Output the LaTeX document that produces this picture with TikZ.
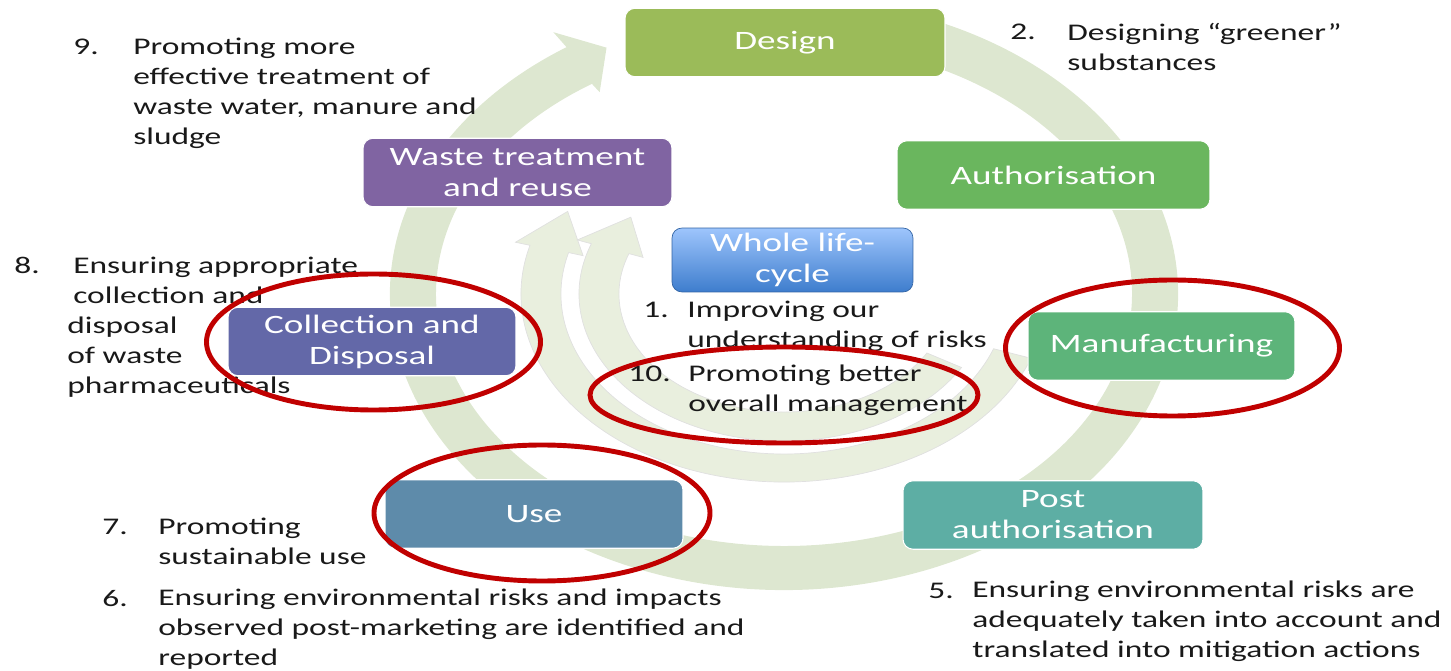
\documentclass[tikz,border=0pt]{standalone}
\usepackage{fontspec}
\usepackage{tikz}
\setmainfont{Carlito}
\newfontfamily\slidefont[FakeStretch=1.4]{Carlito}
\definecolor{ringgreen}{RGB}{221,231,208}
\definecolor{innergreen}{RGB}{233,239,222}
\definecolor{designgreen}{RGB}{155,187,89}
\definecolor{authgreen}{RGB}{106,182,94}
\definecolor{manugreen}{RGB}{93,180,122}
\definecolor{postteal}{RGB}{93,174,164}
\definecolor{useblue}{RGB}{94,139,170}
\definecolor{collectblue}{RGB}{99,104,168}
\definecolor{wastepurple}{RGB}{128,100,162}
\definecolor{lifetop}{RGB}{158,197,252}
\definecolor{lifebottom}{RGB}{62,125,205}
\definecolor{markred}{RGB}{192,0,0}
\pgfdeclarelayer{ringlayer}
\pgfdeclarelayer{boxlayer}
\pgfsetlayers{ringlayer,boxlayer,main}
\tikzstyle{stage}=[rounded corners=0.2cm,draw=white,line width=0.6pt,text=white,align=center,inner sep=0pt,minimum height=1.37cm,font=\slidefont\fontsize{15.1}{17.6}\selectfont]
\tikzstyle{num}=[anchor=base west,inner sep=0pt,text=black!90,font=\slidefont\fontsize{13.6}{17.07}\selectfont]
\tikzstyle{item}=[anchor=north west,inner sep=0pt,align=left,text=black!90,font=\slidefont\fontsize{13.6}{17.07}\selectfont]
\tikzstyle{redring}=[draw=markred,line width=2.8pt]

\begin{document}
\begin{tikzpicture}[x=0.02cm,y=0.02cm]
        \useasboundingbox (0,0) rectangle (1451,670);

        \begin{pgfonlayer}{ringlayer}
            \begin{scope}[shift={(784,376)}]
                % big cycle arrow
                \fill [ringgreen] (70:394 and 296) arc [start angle=70, end angle=-236.5, x radius=394, y radius=296]
                    -- (-236.5:418 and 314) -- (-242:378 and 279) -- (-236.5:334 and 242)
                    -- (-236.5:348 and 252) arc [start angle=-236.5, end angle=70, x radius=348, y radius=252] -- cycle;
                % two inner arrows
                \filldraw [innergreen, draw=black!12] (-20:263 and 188) arc [start angle=-20, end angle=-195, x radius=263, y radius=188]
                    -- (-195:278 and 200) -- (-208:245 and 176) -- (-195:208 and 148)
                    -- (-195:223 and 160) arc [start angle=-195, end angle=-20, x radius=223, y radius=160] -- cycle;
                \filldraw [innergreen, draw=black!12] (-30:205 and 147) arc [start angle=-30, end angle=-200, x radius=205, y radius=147]
                    -- (-200:220 and 158) -- (-215:187 and 134) -- (-200:150 and 107)
                    -- (-200:165 and 118) arc [start angle=-200, end angle=-30, x radius=165, y radius=118] -- cycle;
            \end{scope}
        \end{pgfonlayer}

        \begin{pgfonlayer}{boxlayer}
            \node [style = stage, fill=designgreen, minimum width=6.4cm] (design) at (785, 627.5) {Design};
            \node [style = stage, fill=authgreen, minimum width=6.26cm] (auth) at (1053.5, 495) {Authorisation};
            \node [style = stage, fill=manugreen, minimum width=5.34cm] (manu) at (1161.5, 324) {Manufacturing};
            \node [style = stage, fill=postteal, minimum width=6cm] (post) at (1053, 155) {Post\\authorisation};
            \node [style = stage, fill=useblue, minimum width=5.96cm] (use) at (534, 156) {Use};
            \node [style = stage, fill=collectblue, minimum width=5.76cm] (collect) at (372, 328.5) {Collection and\\Disposal};
            \node [style = stage, fill=wastepurple, minimum width=6.18cm] (waste) at (517.5, 497.5) {Waste treatment\\and reuse};
            \node [style = stage, top color=lifetop, bottom color=lifebottom, draw=lifebottom!80!black, line width=0.4pt,
                minimum width=4.82cm, minimum height=1.28cm] (life) at (792.5, 410) {Whole life-\\cycle};
        \end{pgfonlayer}

        \node [style = num] (n9) at (73, 615) {9.};
        \node [style = item] (t9) at (133, 632) {Promoting more\\effective treatment of\\waste water, manure and\\sludge};
        \node [style = num] (n2) at (1010, 630) {2.};
        \node [style = item] (t2) at (1067, 647) {Designing “greener”\\substances};
        \node [style = num] (n8) at (14, 396) {8.};
        \node [style = item] (t8) at (67, 413) {\hspace*{0.12cm}Ensuring appropriate\\\hspace*{0.12cm}collection and\\disposal\\of waste\\pharmaceuticals};
        \node [style = num] (n1) at (643, 352) {1.};
        \node [style = item] (t1) at (687, 369) {Improving our\\understanding of risks};
        \node [style = num] (n10) at (628, 288) {10.};
        \node [style = item] (t10) at (688, 305) {Promoting better\\overall management};
        \node [style = num] (n7) at (102, 135) {7.};
        \node [style = item] (t7) at (158, 152) {Promoting\\sustainable use};
        \node [style = num] (n6) at (102, 64) {6.};
        \node [style = item] (t6) at (158, 81) {Ensuring environmental risks and impacts\\observed post-marketing are identified and\\reported};
        \node [style = num] (n5) at (928, 72) {5.};
        \node [style = item] (t5) at (972, 89) {Ensuring environmental risks are\\adequately taken into account and\\translated into mitigation actions};

        % highlighted stages
        \draw [style = redring] (collect.center) ++(1.5, -0.5) ellipse [x radius=167, y radius=68];
        \draw [style = redring] (manu.center) ++(11, -2) ellipse [x radius=167, y radius=68];
        \draw [style = redring] (784, 275) ellipse [x radius=194, y radius=48];
        \draw [style = redring] (use.center) ++(8, 1) ellipse [x radius=168, y radius=68];
    \end{tikzpicture}
\end{document}
